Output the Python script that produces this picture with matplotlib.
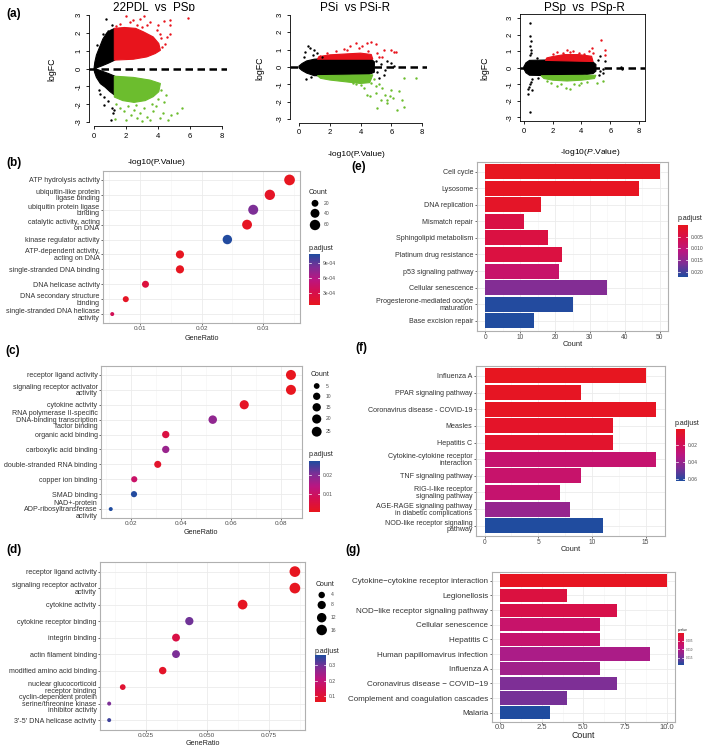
import matplotlib
matplotlib.use("Agg")
import matplotlib.pyplot as plt
import numpy as np
from matplotlib.colors import LinearSegmentedColormap, Normalize

plt.rcParams['font.family'] = ['Liberation Sans', 'DejaVu Sans']
plt.rcParams['mathtext.fontset'] = 'custom'
plt.rcParams['mathtext.rm'] = 'Liberation Sans'
plt.rcParams['mathtext.it'] = 'Liberation Sans:italic'
plt.rcParams['axes.unicode_minus'] = False

W, H = 709, 751
RED, GREEN = '#e8141c', '#6cbd2e'

# ---------------- (a) volcano plots: outlines of the dense clouds + loose points ----------------
a1_black_up = [(0, 0), (0.05, 0.35), (0.15, 0.75), (0.35, 1.2), (0.55, 1.65), (0.8, 2.0), (1.05, 2.15),
               (1.3, 2.25), (1.3, 0.47), (0.9, 0.3), (0.5, 0.15), (0.2, 0.05)]
a1_black_dn = [(0, 0), (0.2, -0.05), (0.5, -0.15), (0.9, -0.28), (1.3, -0.43), (1.3, -1.5), (1.0, -1.3),
               (0.7, -1.05), (0.4, -0.85), (0.15, -0.5), (0.03, -0.2)]
a1_red_poly = [(1.27, 0.47), (2.46, 0.52), (3.3, 0.65), (3.83, 0.84), (4.15, 1.02), (4.05, 1.4), (3.7, 1.77),
               (3.1, 2.05), (2.6, 2.25), (1.9, 2.3), (1.27, 2.25)]
a1_green_poly = [(1.27, -0.43), (2.46, -0.5), (3.5, -0.65), (4.15, -0.84), (4.05, -1.3), (3.7, -1.58),
                 (3.2, -1.8), (2.5, -1.9), (1.8, -1.8), (1.27, -1.6)]
a1_black_pts = [(0.74, 2.77), (0.85, 2.1), (1.1, 2.45), (0.55, 1.95), (0.2, 1.3), (0.3, -1.2), (0.6, -1.6),
                (0.9, -1.8), (0.65, -2.05), (1.1, -2.2), (1.2, -2.5), (1.05, -2.9), (1.25, -2.3), (0.4, -1.45)]
a1_red_pts = [(2.0, 2.92), (3.1, 2.92), (4.0, 2.46), (4.36, 2.66), (4.78, 2.7), (5.9, 2.83), (4.78, 2.42),
              (4.15, 1.96), (4.57, 1.77), (4.46, 1.4), (3.94, 2.18), (3.5, 2.6), (2.9, 2.8), (2.46, 2.7),
              (1.62, 2.5), (2.25, 2.6), (3.3, 2.42), (4.25, 1.2), (3.6, 1.5), (4.78, 1.96), (1.4, 2.4),
              (3.0, 2.3), (4.2, 1.7), (2.7, 2.45)]
a1_green_pts = [(1.4, -2.0), (1.6, -2.2), (1.9, -2.4), (2.1, -2.1), (2.3, -2.6), (2.5, -2.3), (2.7, -2.8),
                (2.9, -2.5), (3.1, -2.2), (3.3, -2.7), (3.5, -2.9), (3.7, -2.4), (3.9, -2.1), (4.1, -2.8),
                (4.3, -2.5), (4.4, -1.9), (4.6, -2.9), (4.8, -2.6), (5.2, -2.5), (5.5, -2.2), (4.5, -1.5),
                (4.2, -1.2), (3.0, -2.95), (1.3, -2.85), (2.0, -2.9), (4.0, -1.7), (3.6, -2.0), (2.6, -2.05)]

a2_black_poly = [(0, 0.05), (0.2, 0.2), (0.5, 0.35), (1.0, 0.45), (2.0, 0.5), (3.0, 0.5), (4.0, 0.48),
                 (4.7, 0.45), (4.9, 0.3), (4.9, -0.3), (4.5, -0.45), (3.5, -0.45), (2.5, -0.5), (1.5, -0.5),
                 (1.0, -0.5), (0.5, -0.35), (0.2, -0.2), (0, -0.05)]
a2_red_poly = [(1.2, 0.45), (4.8, 0.45), (4.7, 0.72), (4.0, 0.8), (3.0, 0.75), (2.0, 0.7), (1.3, 0.6)]
a2_green_poly = [(1.2, -0.5), (4.8, -0.45), (4.6, -0.9), (4.0, -0.95), (3.0, -0.85), (2.0, -0.75), (1.4, -0.65)]
a2_black_pts = [(0.6, 1.2), (0.7, 1.1), (0.4, 0.85), (1.0, 1.0), (1.2, 0.8), (0.45, -0.7), (0.8, -0.6),
                (5.0, 0.35), (5.3, 0.2), (5.7, 0.33), (6.0, 0.25), (6.2, 0.05), (5.5, -0.45), (5.2, -0.63),
                (5.1, -0.3), (5.6, -0.2), (0.3, 0.6), (0.9, 0.7), (1.5, 0.6)]
a2_red_pts = [(1.8, 0.8), (2.4, 0.9), (3.1, 1.0), (3.7, 1.4), (4.1, 1.2), (4.4, 1.4), (4.7, 1.45), (5.0, 1.3),
              (5.5, 1.0), (6.0, 1.0), (6.3, 0.85), (3.3, 1.2), (2.0, 0.6), (1.4, 0.65), (2.6, 0.7), (4.5, 0.9),
              (5.4, 0.6), (5.1, 0.8), (3.9, 1.1), (2.9, 1.05), (5.2, 0.55), (6.2, 0.88)]
a2_green_pts = [(2.0, -0.63), (3.1, -0.73), (3.7, -1.0), (4.2, -1.2), (4.4, -1.6), (4.6, -1.7), (5.0, -1.5),
                (5.3, -1.9), (5.4, -1.2), (5.7, -1.9), (5.9, -1.7), (6.1, -1.8), (6.5, -1.4), (6.7, -1.9),
                (6.8, -0.63), (7.6, -0.63), (6.8, -2.3), (6.4, -2.5), (5.1, -2.35), (5.7, -2.1), (5.0, -1.1),
                (4.7, -0.9), (4.9, -0.7), (5.2, -1.0), (3.5, -0.95), (4.0, -1.05), (6.0, -1.3), (5.6, -1.6)]

a3_black_poly = [(0, 0.05), (0.15, 0.3), (0.4, 0.45), (2.0, 0.48), (4.0, 0.45), (4.8, 0.35), (5.0, 0.2),
                 (5.0, -0.2), (4.8, -0.35), (4.0, -0.45), (2.0, -0.48), (0.4, -0.45), (0.15, -0.3), (0, -0.05)]
a3_red_poly = [(1.5, 0.45), (4.8, 0.38), (4.7, 0.7), (3.8, 0.8), (2.8, 0.8), (2.0, 0.68), (1.6, 0.6)]
a3_green_poly = [(1.2, -0.48), (5.0, -0.45), (4.9, -0.65), (4.0, -0.75), (3.0, -0.8), (2.0, -0.75), (1.4, -0.65)]
a3_black_pts = [(0.44, 2.73), (0.44, 1.9), (0.48, 1.6), (0.44, 1.3), (0.48, 1.1), (0.52, 0.9), (0.4, 0.75),
                (0.6, -0.7), (0.44, -1.0), (0.32, -1.3), (0.55, -1.35), (0.32, -1.6), (0.44, -2.7), (0.5, -0.85),
                (0.38, -1.15), (5.3, 0.7), (5.6, 0.4), (5.3, -0.2), (5.5, -0.1), (6.8, -0.05), (6.75, 0.02),
                (5.15, 0.5), (5.2, -0.45), (5.5, -0.3), (1.0, -0.6), (0.9, 0.6)]
a3_red_pts = [(3.0, 1.1), (2.3, 0.95), (3.4, 1.0), (3.8, 0.9), (4.7, 1.2), (4.8, 0.9), (5.35, 1.7), (5.6, 1.1),
              (5.65, 0.8), (2.7, 0.9), (4.2, 0.85), (3.2, 0.95), (2.0, 0.85), (4.5, 1.0)]
a3_green_pts = [(2.3, -1.1), (2.9, -1.2), (3.2, -1.27), (4.0, -0.9), (5.05, -0.9), (5.5, -0.77), (1.6, -0.8),
                (2.6, -1.0), (3.5, -1.0), (4.4, -0.85), (1.9, -0.9), (3.8, -1.05)]

# ---------------- (b) GO dot plot ----------------
b_terms = ["ATP hydrolysis activity", "ubiquitin-like protein\nligase binding",
           "ubiquitin protein ligase\nbinding", "catalytic activity, acting\non DNA",
           "kinase regulator activity", "ATP-dependent activity,\nacting on DNA",
           "single-stranded DNA binding", "DNA helicase activity",
           "DNA secondary structure\nbinding", "single-stranded DNA helicase\nactivity"]
b_ratio = [0.0343, 0.0311, 0.0284, 0.0274, 0.0242, 0.0165, 0.0165, 0.0109, 0.0077, 0.0055]
b_count = [65, 59, 54, 52, 46, 31, 31, 21, 15, 10]
b_padj = [0.6e-4, 1.0e-4, 8.3e-4, 0.8e-4, 10.8e-4, 0.7e-4, 0.7e-4, 2.2e-4, 0.9e-4, 3.5e-4]

# ---------------- (c) ----------------
c_terms = ["receptor ligand activity", "signaling receptor activator\nactivity", "cytokine activity",
           "RNA polymerase II-specific\nDNA-binding transcription\nfactor binding", "organic acid binding",
           "carboxylic acid binding", "double-stranded RNA binding", "copper ion binding", "SMAD binding",
           "NAD+-protein\nADP-ribosyltransferase\nactivity"]
c_ratio = [0.0840, 0.0840, 0.0653, 0.0527, 0.0339, 0.0339, 0.0307, 0.0213, 0.0212, 0.0119]
c_count = [26, 26, 20, 16, 10, 10, 9, 6, 6, 3]
c_padj = [0.0006, 0.0006, 0.0015, 0.0185, 0.0055, 0.0175, 0.0025, 0.0105, 0.0270, 0.0272]

# ---------------- (d) ----------------
d_terms = ["receptor ligand activity", "signaling receptor activator\nactivity", "cytokine activity",
           "cytokine receptor binding", "integrin binding", "actin filament binding",
           "modified amino acid binding", "nuclear glucocorticoid\nreceptor binding",
           "cyclin-dependent protein\nserine/threonine kinase\ninhibitor activity", "3'-5' DNA helicase activity"]
d_ratio = [0.0855, 0.0855, 0.0643, 0.0427, 0.0373, 0.0373, 0.0319, 0.0157, 0.0102, 0.0102]
d_count = [17, 17, 13, 8, 7, 7, 6, 3, 2, 2]
d_padj = [0.066, 0.066, 0.072, 0.300, 0.125, 0.290, 0.080, 0.095, 0.290, 0.340]

# ---------------- (e) KEGG bar plot ----------------
e_terms = ["Cell cycle", "Lysosome", "DNA replication", "Mismatch repair", "Sphingolipid metabolism",
           "Platinum drug resistance", "p53 signaling pathway", "Cellular senescence",
           "Progesterone-mediated oocyte\nmaturation", "Base excision repair"]
e_count = [50, 44, 16, 11, 18, 22, 21, 35, 25, 14]
e_padj = [0.0003, 0.0005, 0.0012, 0.0045, 0.0042, 0.0040, 0.0085, 0.0160, 0.0218, 0.0220]

# ---------------- (f) ----------------
f_terms = ["Influenza A", "PPAR signaling pathway", "Coronavirus disease - COVID-19", "Measles", "Hepatitis C",
           "Cytokine-cytokine receptor\ninteraction", "TNF signaling pathway",
           "RIG-I-like receptor\nsignaling pathway", "AGE-RAGE signaling pathway\nin diabetic complications",
           "NOD-like receptor signaling\npathway"]
f_count = [15, 9, 16, 12, 12, 16, 9, 7, 8, 11]
f_padj = [0.002, 0.003, 0.003, 0.005, 0.006, 0.026, 0.025, 0.026, 0.041, 0.062]

# ---------------- (g) ----------------
g_terms = ["Cytokine\u2212cytokine receptor interaction", "Legionellosis", "NOD\u2212like receptor signaling pathway",
           "Cellular senescence", "Hepatitis C", "Human papillomavirus infection", "Influenza A",
           "Coronavirus disease \u2212 COVID\u221219", "Complement and coagulation cascades", "Malaria"]
g_count = [10, 4, 7, 6, 6, 9, 6, 7, 4, 3]
g_pval = [0.0004, 0.0035, 0.0045, 0.0075, 0.0078, 0.0110, 0.0118, 0.0145, 0.0150, 0.0195]

cmap = LinearSegmentedColormap.from_list(
    'padj', [(0, '#e8161e'), (0.25, '#d60f4e'), (0.5, '#bb1682'), (0.75, '#7d2f96'), (1, '#1f4c9f')])


def px_axes(fig, left, top, right, bottom):
    return fig.add_axes([left / W, 1 - bottom / H, (right - left) / W, (bottom - top) / H])


def volcano(ax, polys, pts, xlim, boxed):
    for color, poly in polys:
        xs, ys = zip(*poly)
        ax.fill(xs, ys, color=color, lw=0.8, ec=color, zorder=2)
    for color, p in pts:
        xs, ys = zip(*p)
        ax.scatter(xs, ys, s=3, c=color, lw=0, zorder=2)
    ax.axhline(0, color='k', lw=1.8, ls=(0, (3, 1.8)), zorder=3)
    ax.set_xlim(xlim)
    ax.set_ylim(-3.24, 3.24)
    ax.set_xticks([0, 2, 4, 6, 8])
    ax.set_yticks([-3, -2, -1, 0, 1, 2, 3])
    ax.tick_params(length=2.5, width=0.6, pad=2, labelsize=5.5)
    for lab in ax.get_yticklabels():
        lab.set_rotation(90)
        lab.set_va('center')
    for s in ax.spines.values():
        s.set_linewidth(0.6)
    if not boxed:
        ax.spines['top'].set_visible(False)
        ax.spines['right'].set_visible(False)
        ax.spines['left'].set_bounds(-3, 3)
        ax.spines['bottom'].set_bounds(0, 8)


def gg_style(ax, xticks, xticklabels, labels, ylab_fs, xlab_fs):
    n = len(labels)
    ax.set_ylim(n + 0.6, 0.4)
    ax.set_yticks(np.arange(1, n + 1))
    ax.set_yticklabels(labels, fontsize=ylab_fs, color='#333333', linespacing=0.9)
    ax.set_xticks(xticks)
    ax.set_xticklabels(xticklabels, fontsize=xlab_fs, color='#4d4d4d')
    minor = [(a + b) / 2 for a, b in zip(xticks[:-1], xticks[1:])]
    lo, hi = ax.get_xlim()
    step = xticks[1] - xticks[0]
    if xticks[0] - step / 2 > lo:
        minor = [xticks[0] - step / 2] + minor
    if xticks[-1] + step / 2 < hi:
        minor = minor + [xticks[-1] + step / 2]
    ax.set_xticks(minor, minor=True)
    ax.set_axisbelow(True)
    ax.grid(which='major', color='#ebebeb', lw=0.6)
    ax.grid(which='minor', axis='x', color='#f4f4f4', lw=0.4)
    ax.tick_params(which='minor', length=0)
    ax.tick_params(which='major', length=1.5, width=0.5, color='#333333', pad=1)
    for s in ax.spines.values():
        s.set_color('#b0b0b0')
        s.set_linewidth(0.8)


def size_map(counts, c_lo, c_hi, d_lo, d_hi):
    c = np.clip(np.asarray(counts, float), c_lo, c_hi)
    d = d_lo + (d_hi - d_lo) * np.sqrt((c - c_lo) / (c_hi - c_lo))
    return (d * 0.72) ** 2


def color_bar(fig, rect, vrange, ticks, ticklabels, reverse, fs=3.6):
    cax = px_axes(fig, *rect)
    grad = np.linspace(vrange[0], vrange[1], 200).reshape(-1, 1)
    cax.imshow(grad, cmap=cmap, norm=Normalize(*vrange), aspect='auto', origin='lower',
               extent=(0, 1, vrange[0], vrange[1]))
    cax.set_xlim(0, 1)
    if reverse:
        cax.set_ylim(vrange[1], vrange[0])
    else:
        cax.set_ylim(vrange[0], vrange[1])
    for t in ticks:
        cax.plot([0, 0.2], [t, t], color='white', lw=0.5)
        cax.plot([0.8, 1], [t, t], color='white', lw=0.5)
    cax.set_xticks([])
    cax.yaxis.tick_right()
    cax.set_yticks(ticks)
    cax.set_yticklabels(ticklabels, fontsize=fs, color='#4d4d4d')
    cax.tick_params(axis='y', length=0, pad=2)
    for s in cax.spines.values():
        s.set_visible(False)


def dot_panel(fig, ov, rect, terms, ratio, count, padj, xlim, xticks, xticklabels, d_rng, vrange,
              leg_counts, leg_x, leg_ys, leg_title_y, cb_rect, cb_ticks, cb_labels, cb_title_y, xlab_y):
    ax = px_axes(fig, *rect)
    ax.set_xlim(xlim)
    norm = Normalize(*vrange)
    c_lo, c_hi = min(count), max(count)
    y = np.arange(1, len(terms) + 1)
    ax.scatter(ratio, y, s=size_map(count, c_lo, c_hi, *d_rng), c=cmap(norm(np.asarray(padj))), lw=0, zorder=3)
    gg_style(ax, xticks, xticklabels, terms, 5.1, 4.6)
    ov.text((rect[0] + rect[2]) / 2, xlab_y, "GeneRatio", fontsize=5.2, color='#222222', ha='center', va='center')
    ov.text(leg_x - 6, leg_title_y, "Count", fontsize=5.0, color='#222222', ha='left', va='center')
    ov.scatter([leg_x] * len(leg_counts), leg_ys, s=size_map(leg_counts, c_lo, c_hi, *d_rng), c='k', lw=0)
    for cnt, ly in zip(leg_counts, leg_ys):
        ov.text(leg_x + 9, ly, str(cnt), fontsize=3.6, color='#4d4d4d', ha='left', va='center')
    ov.text(cb_rect[0], cb_title_y, "p.adjust", fontsize=5.0, color='#222222', ha='left', va='center')
    color_bar(fig, cb_rect, vrange, cb_ticks, cb_labels, False)


def bar_panel(fig, ov, rect, terms, count, padj, xlim, xticks, xticklabels, vrange, ylab_fs, xlab_fs,
              xlab_y, title_fs):
    ax = px_axes(fig, *rect)
    ax.set_xlim(xlim)
    norm = Normalize(*vrange)
    y = np.arange(1, len(terms) + 1)
    ax.barh(y, count, height=0.9, color=cmap(norm(np.asarray(padj))), lw=0, zorder=2)
    gg_style(ax, xticks, xticklabels, terms, ylab_fs, xlab_fs)
    ov.text((rect[0] + rect[2]) / 2, xlab_y, "Count", fontsize=title_fs, color='#222222', ha='center', va='center')
    return ax


fig = plt.figure(figsize=(W / 100, H / 100), dpi=100)
ov = fig.add_axes([0, 0, 1, 1])
ov.set_xlim(0, W)
ov.set_ylim(H, 0)
ov.axis('off')

# ---- (a) ----
ax1 = px_axes(fig, 88.9, 10.7, 227.1, 126.3)
volcano(ax1, [('k', a1_black_up), ('k', a1_black_dn), (RED, a1_red_poly), (GREEN, a1_green_poly)],
        [('k', a1_black_pts), (RED, a1_red_pts), (GREEN, a1_green_pts)], (-0.32, 8.32), False)
ax2 = px_axes(fig, 290, 10.8, 427, 123.2)
volcano(ax2, [('k', a2_black_poly), (RED, a2_red_poly), (GREEN, a2_green_poly)],
        [('k', a2_black_pts), (RED, a2_red_pts), (GREEN, a2_green_pts)], (-0.58, 8.32), False)
ax3 = px_axes(fig, 520, 14.3, 645, 121.3)
volcano(ax3, [('k', a3_black_poly), (RED, a3_red_poly), (GREEN, a3_green_poly)],
        [('k', a3_black_pts), (RED, a3_red_pts), (GREEN, a3_green_pts)], (-0.26, 8.4), True)

ov.text(154, 8, "22PDL  vs  PSp", fontsize=8.4, ha='center', va='center')
ov.text(355, 8, "PSi  vs PSi-R", fontsize=8.4, ha='center', va='center')
ov.text(584, 8, "PSp  vs  PSp-R", fontsize=8.4, ha='center', va='center')
ov.text(157, 162, "-log10(P.Value)", fontsize=6.1, ha='center', va='center')
ov.text(357, 154, "-log10(P.Value)", fontsize=6.1, ha='center', va='center')
ov.text(590, 153, "-log10($\\it{P}$.Value)", fontsize=6.1, ha='center', va='center')
for lx, ly in [(52, 69), (260, 68), (485, 68)]:
    ov.text(lx, ly, "logFC", fontsize=6.3, rotation=90, ha='center', va='center')

# ---- (b)(c)(d) ----
dot_panel(fig, ov, (103, 171, 300, 323), b_terms, b_ratio, b_count, b_padj, (0.0040, 0.0360),
          [0.01, 0.02, 0.03], ["0.01", "0.02", "0.03"], (4.0, 10.7), (0.5e-4, 10.9e-4),
          [20, 40, 60], 315, [203.3, 213.3, 225], 193, (309, 254, 320, 305),
          [3e-4, 6e-4, 9e-4], ["3e-04", "6e-04", "9e-04"], 249, 338)
dot_panel(fig, ov, (101, 366, 301.7, 518), c_terms, c_ratio, c_count, c_padj, (0.008, 0.0883),
          [0.02, 0.04, 0.06, 0.08], ["0.02", "0.04", "0.06", "0.08"], (4.0, 10.0), (0.0004, 0.0274),
          [5, 10, 15, 20, 25], 316.7, [386, 396.3, 407.3, 419, 431.7], 375, (309, 461, 320, 511.7),
          [0.01, 0.02], ["0.01", "0.02"], 454, 533)
dot_panel(fig, ov, (100, 561.7, 305, 730), d_terms, d_ratio, d_count, d_padj, (0.00648, 0.0896),
          [0.025, 0.05, 0.075], ["0.025", "0.050", "0.075"], (4.0, 10.7), (0.063, 0.365),
          [4, 8, 12, 16], 321.7, [595, 605, 617.7, 630], 584, (315, 655, 326, 701.7),
          [0.1, 0.2, 0.3], ["0.1", "0.2", "0.3"], 651.5, 743.3)

# ---- (e)(f)(g) ----
bar_panel(fig, ov, (476.7, 161.7, 668.3, 330.7), e_terms, e_count, e_padj, (-2.5, 52.5),
          [0, 10, 20, 30, 40, 50], ["0", "10", "20", "30", "40", "50"], (0.0, 0.0221), 5.1, 4.8, 345, 5.4)
ov.text(678, 218, "p.adjust", fontsize=5.0, color='#222222', ha='left', va='center')
color_bar(fig, (678, 225, 688, 276.7), (0.0, 0.0221), [0.005, 0.010, 0.015, 0.020],
          ["0.005", "0.010", "0.015", "0.020"], True)

bar_panel(fig, ov, (476, 366, 665, 535.7), f_terms, f_count, f_padj, (-0.8, 16.8),
          [0, 5, 10, 15], ["0", "5", "10", "15"], (0.0012, 0.0624), 5.1, 4.8, 549.3, 5.4)
ov.text(675, 423.3, "p.adjust", fontsize=5.0, color='#222222', ha='left', va='center')
color_bar(fig, (676, 429.3, 685, 481), (0.0012, 0.0624), [0.02, 0.04, 0.06],
          ["0.02", "0.04", "0.06"], True)

axg = bar_panel(fig, ov, (491.7, 572, 675, 721.5), g_terms, g_count, g_pval, (-0.5, 10.5),
                [0, 2.5, 5, 7.5, 10], ["0.0", "2.5", "5.0", "7.5", "10.0"], (0.0, 0.0195), 5.8, 5.5, 735.5, 6.3)
axg.tick_params(axis='x', pad=0.5)
ov.text(678, 629.5, "pvalue", fontsize=2.4, color='#222222', ha='left', va='center')
color_bar(fig, (678, 632.5, 683.5, 665), (0.0, 0.0195), [0.005, 0.010, 0.015],
          ["0.005", "0.010", "0.015"], True, fs=2.2)

# ---- panel letters ----
for lab, lx, ly in [("(a)", 14, 14), ("(b)", 14, 163), ("(c)", 13, 351), ("(d)", 14, 550),
                    ("(e)", 359, 167), ("(f)", 361, 348), ("(g)", 353, 550)]:
    ov.text(lx, ly, lab, fontsize=8.5, fontweight='bold', ha='center', va='center')

fig.savefig('out.png', dpi=100)
